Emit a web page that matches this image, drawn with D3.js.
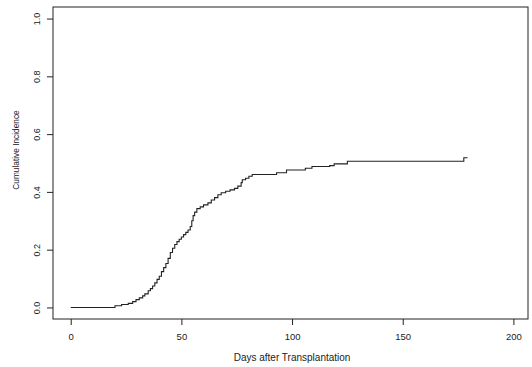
<!DOCTYPE html>
<html>
<head>
<meta charset="utf-8">
<script src="https://cdn.jsdelivr.net/npm/d3@7"></script>
<style>
  html, body { margin: 0; padding: 0; background: #fff; }
  svg { display: block; }
  text { font-family: "Liberation Sans", Arial, Helvetica, sans-serif; fill: #222; }
</style>
</head>
<body>
<svg id="chart" width="532" height="367"></svg>
<script>
// Cumulative incidence step curve: event day and the estimate after that day
const eventDays = [0, 20, 23, 26, 28, 29.5, 31, 32.5, 33.5, 35, 36, 37, 38, 39, 40, 41, 42, 43, 44, 45,
  46, 47, 48, 49, 50, 51, 52, 53, 54, 54.7, 55.3, 56, 57, 58.5, 60, 62, 63.5, 65, 66.5, 68,
  70, 72, 74, 75.5, 77, 77.5, 79, 80.5, 82, 93, 97.5, 106, 109, 117, 119, 125, 177.6];
const incidence = [0, 0.006, 0.010, 0.014, 0.020, 0.027, 0.033, 0.040, 0.047, 0.058, 0.065, 0.074, 0.085, 0.097, 0.108, 0.124, 0.138, 0.152, 0.170, 0.190,
  0.205, 0.218, 0.228, 0.236, 0.244, 0.252, 0.260, 0.268, 0.280, 0.300, 0.318, 0.330, 0.342, 0.348, 0.355, 0.362, 0.372, 0.380, 0.390, 0.397,
  0.402, 0.407, 0.412, 0.420, 0.432, 0.442, 0.447, 0.454, 0.460, 0.466, 0.476, 0.482, 0.488, 0.491, 0.497, 0.506, 0.518];
const lastFollowUp = 179.3;

const xTicks = [0, 50, 100, 150, 200];
const yTicks = [0, 0.2, 0.4, 0.6, 0.8, 1.0];
const xTitle = "Days after Transplantation";
const yTitle = "Cumulative Incidence";

const svg = d3.select("#chart");
const box = { left: 53, right: 528, top: 7, bottom: 319 };
const ink = "#222";

const x = d3.scaleLinear().domain([-8, 206.6]).range([box.left, box.right]);
const y = d3.scaleLinear().domain([-0.04, 1.04]).range([box.bottom, box.top]);

// Plot frame
svg.append("rect")
  .attr("x", box.left).attr("y", box.top)
  .attr("width", box.right - box.left).attr("height", box.bottom - box.top)
  .attr("fill", "none").attr("stroke", ink).attr("stroke-width", 1);

// Bottom axis
const xAxis = svg.append("g")
  .attr("transform", `translate(0,${box.bottom})`)
  .call(d3.axisBottom(x).tickValues(xTicks).tickSize(6).tickPadding(8).tickFormat(d3.format("d")));
xAxis.select(".domain").remove();
xAxis.selectAll("line").attr("stroke", ink);
xAxis.selectAll("text").attr("font-size", 9.5).style("fill", ink)
  .attr("font-family", "'Liberation Sans', Arial, sans-serif");

// Left axis with labels turned parallel to the axis
const yAxis = svg.append("g")
  .attr("transform", `translate(${box.left},0)`)
  .call(d3.axisLeft(y).tickValues(yTicks).tickSize(6).tickFormat(d3.format(".1f")));
yAxis.select(".domain").remove();
yAxis.selectAll("line").attr("stroke", ink);
yAxis.selectAll("text")
  .attr("x", null).attr("dy", null)
  .attr("text-anchor", "middle")
  .attr("transform", "translate(-16,0) rotate(-90)")
  .attr("dominant-baseline", "central")
  .attr("font-size", 9).style("fill", ink)
  .attr("font-family", "'Liberation Sans', Arial, sans-serif");

// Step curve
const pts = eventDays.map((d, i) => [d, incidence[i]]);
pts.push([lastFollowUp, incidence[incidence.length - 1]]);
const line = d3.line().x(d => x(d[0])).y(d => y(d[1])).curve(d3.curveStepAfter);
svg.append("path")
  .datum(pts)
  .attr("d", line)
  .attr("fill", "none")
  .attr("stroke", ink)
  .attr("stroke-width", 1.1);

// Axis titles
svg.append("text")
  .attr("x", x(100)).attr("y", 361)
  .attr("text-anchor", "middle")
  .attr("font-size", 10)
  .text(xTitle);

svg.append("text")
  .attr("transform", `translate(16,${150}) rotate(-90)`)
  .attr("text-anchor", "middle")
  .attr("dominant-baseline", "central")
  .attr("font-size", 8.3)
  .text(yTitle);
</script>
</body>
</html>
